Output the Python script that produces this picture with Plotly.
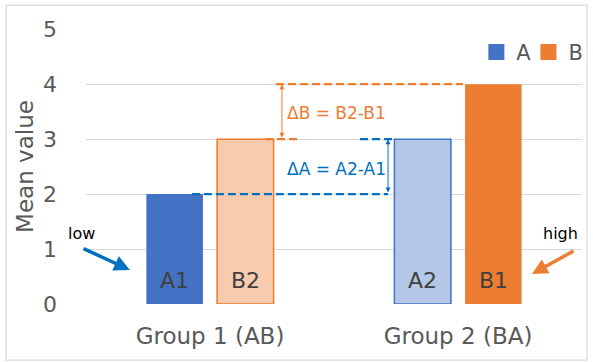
import plotly.graph_objects as go

# Mean values per group: series A and series B
groups = ["Group 1 (AB)", "Group 2 (BA)"]
a_values = [2, 3]          # A1 (group 1), A2 (group 2)
b_values = [3, 4]          # B2 (group 1), B1 (group 2)
a_labels = ["A1", "A2"]
b_labels = ["B2", "B1"]
y_ticks = [0, 1, 2, 3, 4, 5]

BLUE = "#4472C4"
BLUE_LIGHT = "#B4C7E7"
ORANGE = "#ED7D31"
ORANGE_LIGHT = "#F8CBAD"
DBLUE = "#0070C0"
GRID = "#D9D9D9"
FONT = "DejaVu Sans"

fig = go.Figure()

fig.add_trace(go.Bar(
    x=groups, y=a_values, name="A", showlegend=False,
    marker=dict(color=[BLUE, BLUE_LIGHT],
                line=dict(color=[BLUE, BLUE], width=[0, 1.5])),
))
fig.add_trace(go.Bar(
    x=groups, y=b_values, name="B", showlegend=False,
    marker=dict(color=[ORANGE_LIGHT, ORANGE],
                line=dict(color=[ORANGE, ORANGE], width=[1.5, 0])),
))

# legend keys, one legend box each so they can be placed side by side
for name, col, leg in [("A", BLUE, "legend"), ("B", ORANGE, "legend2")]:
    fig.add_trace(go.Scatter(
        x=[None], y=[None], mode="markers", name=name, legend=leg,
        marker=dict(symbol="square", size=17, color=col),
    ))

# bar labels near the bottom of each bar
OFF = 0.143
for i in range(len(groups)):
    fig.add_annotation(x=i - OFF, y=0.43, text=a_labels[i], showarrow=False,
                       font=dict(size=22, color="#404040", family=FONT))
    fig.add_annotation(x=i + OFF, y=0.43, text=b_labels[i], showarrow=False,
                       font=dict(size=22, color="#404040", family=FONT))

# dashed reference lines
def dash_line(x0, x1, y, color):
    fig.add_shape(type="line", xref="x", yref="y", x0=x0, x1=x1, y0=y, y1=y,
                  line=dict(color=color, width=2.2, dash="8px,4px"))

dash_line(-0.073, 0.718, a_values[0], DBLUE)
dash_line(0.605, 0.738, a_values[1], DBLUE)
dash_line(0.266, 1.02, b_values[1], ORANGE)
dash_line(0.222, 0.355, b_values[0], ORANGE)

# double-headed difference arrows
fig.add_annotation(x=0.718, y=a_values[1], ax=0.718, ay=a_values[0],
                   xref="x", yref="y", axref="x", ayref="y", text="",
                   showarrow=True, arrowhead=2, startarrowhead=2,
                   arrowside="end+start", arrowsize=1, arrowwidth=1,
                   arrowcolor=DBLUE)
fig.add_annotation(x=0.29, y=b_values[1], ax=0.29, ay=b_values[0],
                   xref="x", yref="y", axref="x", ayref="y", text="",
                   showarrow=True, arrowhead=2, startarrowhead=2,
                   arrowside="end+start", arrowsize=1, arrowwidth=1,
                   arrowcolor=ORANGE)

fig.add_annotation(x=0.51, y=2.46, text="ΔA = A2-A1", showarrow=False,
                   font=dict(size=17, color=DBLUE, family=FONT))
fig.add_annotation(x=0.51, y=3.48, text="ΔB = B2-B1", showarrow=False,
                   font=dict(size=17, color=ORANGE, family=FONT))

# low / high pointers
fig.add_annotation(x=-0.323, y=0.62, ax=-0.516, ay=1.02,
                   xref="x", yref="y", axref="x", ayref="y", text="",
                   showarrow=True, arrowhead=2, arrowsize=0.9, arrowwidth=3.5,
                   arrowcolor=DBLUE)
fig.add_annotation(x=-0.010, y=0.258, xref="paper", yref="paper", text="low",
                   showarrow=False, xanchor="center", yanchor="middle",
                   font=dict(size=16, color="black", family=FONT))
fig.add_annotation(x=1.298, y=0.545, ax=1.472, ay=0.98,
                   xref="x", yref="y", axref="x", ayref="y", text="",
                   showarrow=True, arrowhead=2, arrowsize=0.9, arrowwidth=3.5,
                   arrowcolor=ORANGE)
fig.add_annotation(x=0.956, y=0.258, xref="paper", yref="paper", text="high",
                   showarrow=False, xanchor="center", yanchor="middle",
                   font=dict(size=16, color="black", family=FONT))

# chart frame
fig.add_shape(type="rect", xref="paper", yref="paper",
              x0=-0.161, x1=1.010, y0=-0.204, y1=1.087,
              line=dict(color=GRID, width=1.2), fillcolor="rgba(0,0,0,0)",
              layer="below")

leg_common = dict(orientation="h", xanchor="left", y=0.915, yanchor="middle",
                  font=dict(size=21, color="#595959"),
                  bgcolor="rgba(0,0,0,0)", itemwidth=30)

fig.update_layout(
    width=593, height=362,
    margin=dict(l=86, r=11, t=29, b=58, autoexpand=False),
    paper_bgcolor="white", plot_bgcolor="white",
    barmode="group", bargap=0.43, bargroupgap=0.2,
    font=dict(family=FONT, color="#595959"),
    showlegend=True,
    legend=dict(x=0.787, **leg_common),
    legend2=dict(x=0.892, **leg_common),
    xaxis=dict(range=[-0.5, 1.5], showgrid=False, zeroline=False,
               showline=False, ticks="", ticklabelstandoff=16,
               automargin=False,
               tickfont=dict(size=23, color="#595959")),
    yaxis=dict(range=[0, 5.005], tickvals=y_ticks, showgrid=True,
               gridcolor=GRID, gridwidth=1.2, zeroline=False, showline=False,
               ticks="", ticklabelstandoff=28, automargin=False,
               tickfont=dict(size=22, color="#595959"),
               title=dict(text="Mean value", standoff=2,
                          font=dict(size=23, color="#595959"))),
)

fig.write_html("out.html")
